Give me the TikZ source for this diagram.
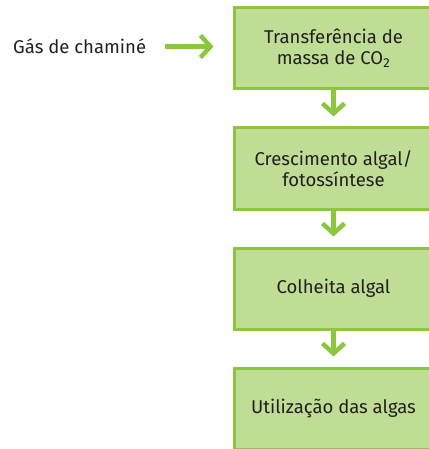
\documentclass[tikz,border=0pt]{standalone}
\usepackage{fontspec}
\setmainfont{Fira Sans}
\usetikzlibrary{arrows.meta}
\definecolor{boxfill}{HTML}{BFDD94}
\definecolor{boxline}{HTML}{8CC63F}
\definecolor{txt}{HTML}{231F20}
\begin{document}
\begin{tikzpicture}[x=1pt,y=1pt,
  stepbox/.style={draw=boxline, fill=boxfill, line width=3pt, minimum width=199pt,
    minimum height=81pt, align=center, inner sep=0pt, text=txt,
    font=\fontsize{18.5}{21}\selectfont},
  flow/.style={draw=boxline, line width=4.5pt,
    -{Straight Barb[length=10pt,width=22pt,line width=4.5pt]}}]
\useasboundingbox (0,0) rectangle (428,-449);
\node[stepbox] (b1) at (333.5,-48) {Transferência de\\massa de CO\textsubscript{2}};
\node[stepbox] (b2) at (333.5,-168.5) {Crescimento algal/\\fotossíntese};
\node[stepbox] (b3) at (333.5,-288.5) {Colheita algal};
\node[stepbox] (b4) at (333.5,-408.5) {Utilização das algas};
\node[text=txt, font=\fontsize{18.5}{21}\selectfont, inner sep=0pt, anchor=west] (g) at (13,-46.5) {Gás de chaminé};
\draw[flow, shorten <=19pt, shorten >=19pt] (g.east) -- (b1.west |- g.east);
\draw[flow, shorten >=10pt] (b1.south) -- (b2.north);
\draw[flow, shorten >=10pt] (b2.south) -- (b3.north);
\draw[flow, shorten >=10pt] (b3.south) -- (b4.north);
\end{tikzpicture}
\end{document}
